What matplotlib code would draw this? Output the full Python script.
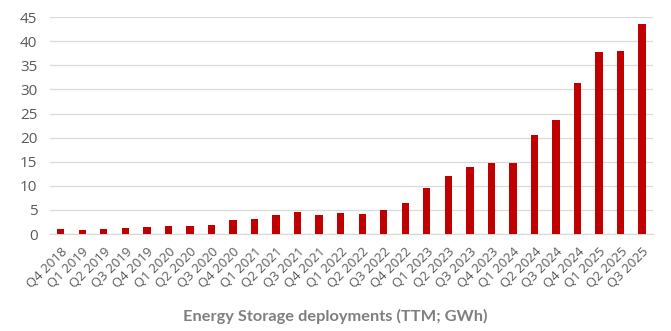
import matplotlib
matplotlib.use("Agg")
import matplotlib.pyplot as plt

quarters = [
    "Q4 2018",
    "Q1 2019", "Q2 2019", "Q3 2019", "Q4 2019",
    "Q1 2020", "Q2 2020", "Q3 2020", "Q4 2020",
    "Q1 2021", "Q2 2021", "Q3 2021", "Q4 2021",
    "Q1 2022", "Q2 2022", "Q3 2022", "Q4 2022",
    "Q1 2023", "Q2 2023", "Q3 2023", "Q4 2023",
    "Q1 2024", "Q2 2024", "Q3 2024", "Q4 2024",
    "Q1 2025", "Q2 2025", "Q3 2025",
]
deployments_gwh = [
    0.97,
    0.83, 1.11, 1.25, 1.52,
    1.59, 1.59, 1.87, 2.91,
    3.12, 3.95, 4.50, 3.88,
    4.29, 4.15, 4.99, 6.51,
    9.49, 12.05, 13.99, 14.68,
    14.82, 20.64, 23.61, 31.37,
    37.74, 37.95, 43.56,
]
y_ticks = [0, 5, 10, 15, 20, 25, 30, 35, 40, 45]
title = "Energy Storage deployments (TTM; GWh)"

plt.rcParams["font.family"] = ["Open Sans", "DejaVu Sans"]

fig = plt.figure(figsize=(6.71, 3.31), dpi=100)
ax = fig.add_axes([0.0745, 0.293, 0.8985, 0.655])

x = list(range(len(quarters)))
ax.bar(x, deployments_gwh, width=0.34, color="#c00000", zorder=3)

ax.set_xlim(-0.5, len(quarters) - 0.5)
ax.set_ylim(0, 45)
ax.set_yticks(y_ticks)
ax.set_xticks(x)
ax.set_xticklabels(quarters, rotation=45, ha="right", rotation_mode="anchor")

ax.grid(axis="y", color="#d9d9d9", linewidth=0.9, zorder=0)
for side in ("top", "right", "left"):
    ax.spines[side].set_visible(False)
ax.spines["bottom"].set_color("#d9d9d9")
ax.spines["bottom"].set_linewidth(0.9)

ax.tick_params(axis="y", length=0, pad=9, labelsize=11, labelcolor="#595959")
ax.tick_params(axis="x", length=0, pad=8, labelsize=9.5, labelcolor="#595959")

fig.text(0.5, 0.045, title, ha="center", va="center", fontsize=11.8,
         fontweight="bold", color="#7f7f7f", family=["Lato", "DejaVu Sans"])

fig.savefig("out.png", dpi=100)
